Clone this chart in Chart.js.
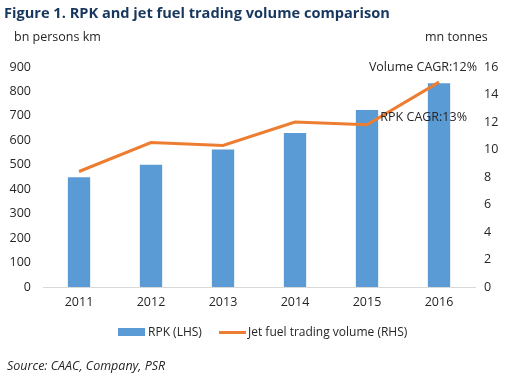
<!DOCTYPE html>
<html>
<head>
<meta charset="utf-8">
<script src="https://cdn.jsdelivr.net/npm/chart.js@4.4.1/dist/chart.umd.min.js"></script>
<style>
  html, body { margin: 0; padding: 0; background: #fff; }
  body { width: 509px; height: 379px; position: relative; overflow: hidden; font-family: "Open Sans", sans-serif; }
  #wrap { position: absolute; left: 0; top: 0; width: 509px; height: 379px; }
  .t { position: absolute; white-space: nowrap; color: #262626; }
  #title { left: 4px; top: 2px; font-weight: bold; font-size: 14.6px; color: #17375E; }
  #lunit { left: 14px; top: 28px; font-size: 12.5px; }
  #runit { left: 425px; top: 28px; font-size: 12.5px; }
  #source { left: 7px; top: 357px; font-size: 12.5px; font-style: italic; }
  .sw1 { position: absolute; left: 118px; top: 328px; width: 27px; height: 8px; background: #5B9BD5; }
  .sw2 { position: absolute; left: 219px; top: 331px; width: 27px; height: 3px; background: #ED7D31; }
  #leg1 { left: 148px; top: 323px; font-size: 12px; }
  #leg2 { left: 248px; top: 323px; font-size: 12px; }
</style>
</head>
<body>
<div id="wrap"><canvas id="c" width="509" height="379"></canvas></div>
<div class="t" id="title">Figure 1. RPK and jet fuel trading volume comparison</div>
<div class="t" id="lunit">bn persons km</div>
<div class="t" id="runit">mn tonnes</div>
<div class="sw1"></div><div class="t" id="leg1">RPK (LHS)</div>
<div class="sw2"></div><div class="t" id="leg2">Jet fuel trading volume (RHS)</div>
<div class="t" id="source">Source: CAAC, Company, PSR</div>
<script>
const years = ["2011", "2012", "2013", "2014", "2015", "2016"];
const rpk = [449, 500, 563, 630, 724, 834];
const jetFuelVolume = [8.4, 10.5, 10.3, 12.0, 11.8, 14.9];
const leftTicks = [0, 100, 200, 300, 400, 500, 600, 700, 800, 900];
const rightTicks = [0, 2, 4, 6, 8, 10, 12, 14, 16];
const annotations = [
  { text: "Volume CAGR:12%", index: 5, axis: "y1", value: 16.0, dx: 38 },
  { text: "RPK CAGR:13%", index: 5, axis: "y1", value: 12.35, dx: 28 }
];

const annotPlugin = {
  id: "annot",
  afterDatasetsDraw(chart) {
    const ctx = chart.ctx;
    ctx.save();
    ctx.font = '12.5px "Open Sans"';
    ctx.fillStyle = "#262626";
    ctx.textAlign = "right";
    ctx.textBaseline = "middle";
    annotations.forEach(a => {
      const x = chart.scales.x.getPixelForValue(a.index) + a.dx;
      const y = chart.scales[a.axis].getPixelForValue(a.value);
      ctx.fillText(a.text, x, y);
    });
    ctx.restore();
  }
};

const tickFont = { family: "Open Sans", size: 12.5 };
new Chart(document.getElementById("c"), {
  data: {
    labels: years,
    datasets: [
      {
        type: "line",
        label: "Jet fuel trading volume (RHS)",
        data: jetFuelVolume,
        yAxisID: "y1",
        borderColor: "#ED7D31",
        backgroundColor: "#ED7D31",
        borderWidth: 3,
        pointRadius: 0,
        tension: 0,
        order: 0
      },
      {
        type: "bar",
        label: "RPK (LHS)",
        data: rpk,
        yAxisID: "y",
        backgroundColor: "#5B9BD5",
        barPercentage: 0.31,
        categoryPercentage: 1,
        order: 1
      }
    ]
  },
  options: {
    responsive: false,
    animation: false,
    layout: { padding: { left: 0, right: 0, top: 67, bottom: 0 } },
    plugins: { legend: { display: false }, tooltip: { enabled: false } },
    scales: {
      x: {
        grid: { display: false, drawTicks: false },
        border: { display: true, color: "#D9D9D9", width: 1 },
        ticks: { color: "#262626", font: tickFont, padding: 8, maxRotation: 0 },
        afterFit(s) { s.height = 92; }
      },
      y: {
        position: "left",
        min: 0, max: 900,
        afterBuildTicks(s) { s.ticks = leftTicks.map(v => ({ value: v })); },
        grid: { display: false, drawTicks: false },
        border: { display: false },
        ticks: { color: "#262626", font: tickFont, padding: 12 },
        afterFit(s) { s.width = 43; }
      },
      y1: {
        position: "right",
        min: 0, max: 16,
        afterBuildTicks(s) { s.ticks = rightTicks.map(v => ({ value: v })); },
        grid: { display: false, drawTicks: false },
        border: { display: false },
        ticks: { color: "#262626", font: tickFont, padding: 9 },
        afterFit(s) { s.width = 34; }
      }
    }
  },
  plugins: [annotPlugin]
});
</script>
</body>
</html>
